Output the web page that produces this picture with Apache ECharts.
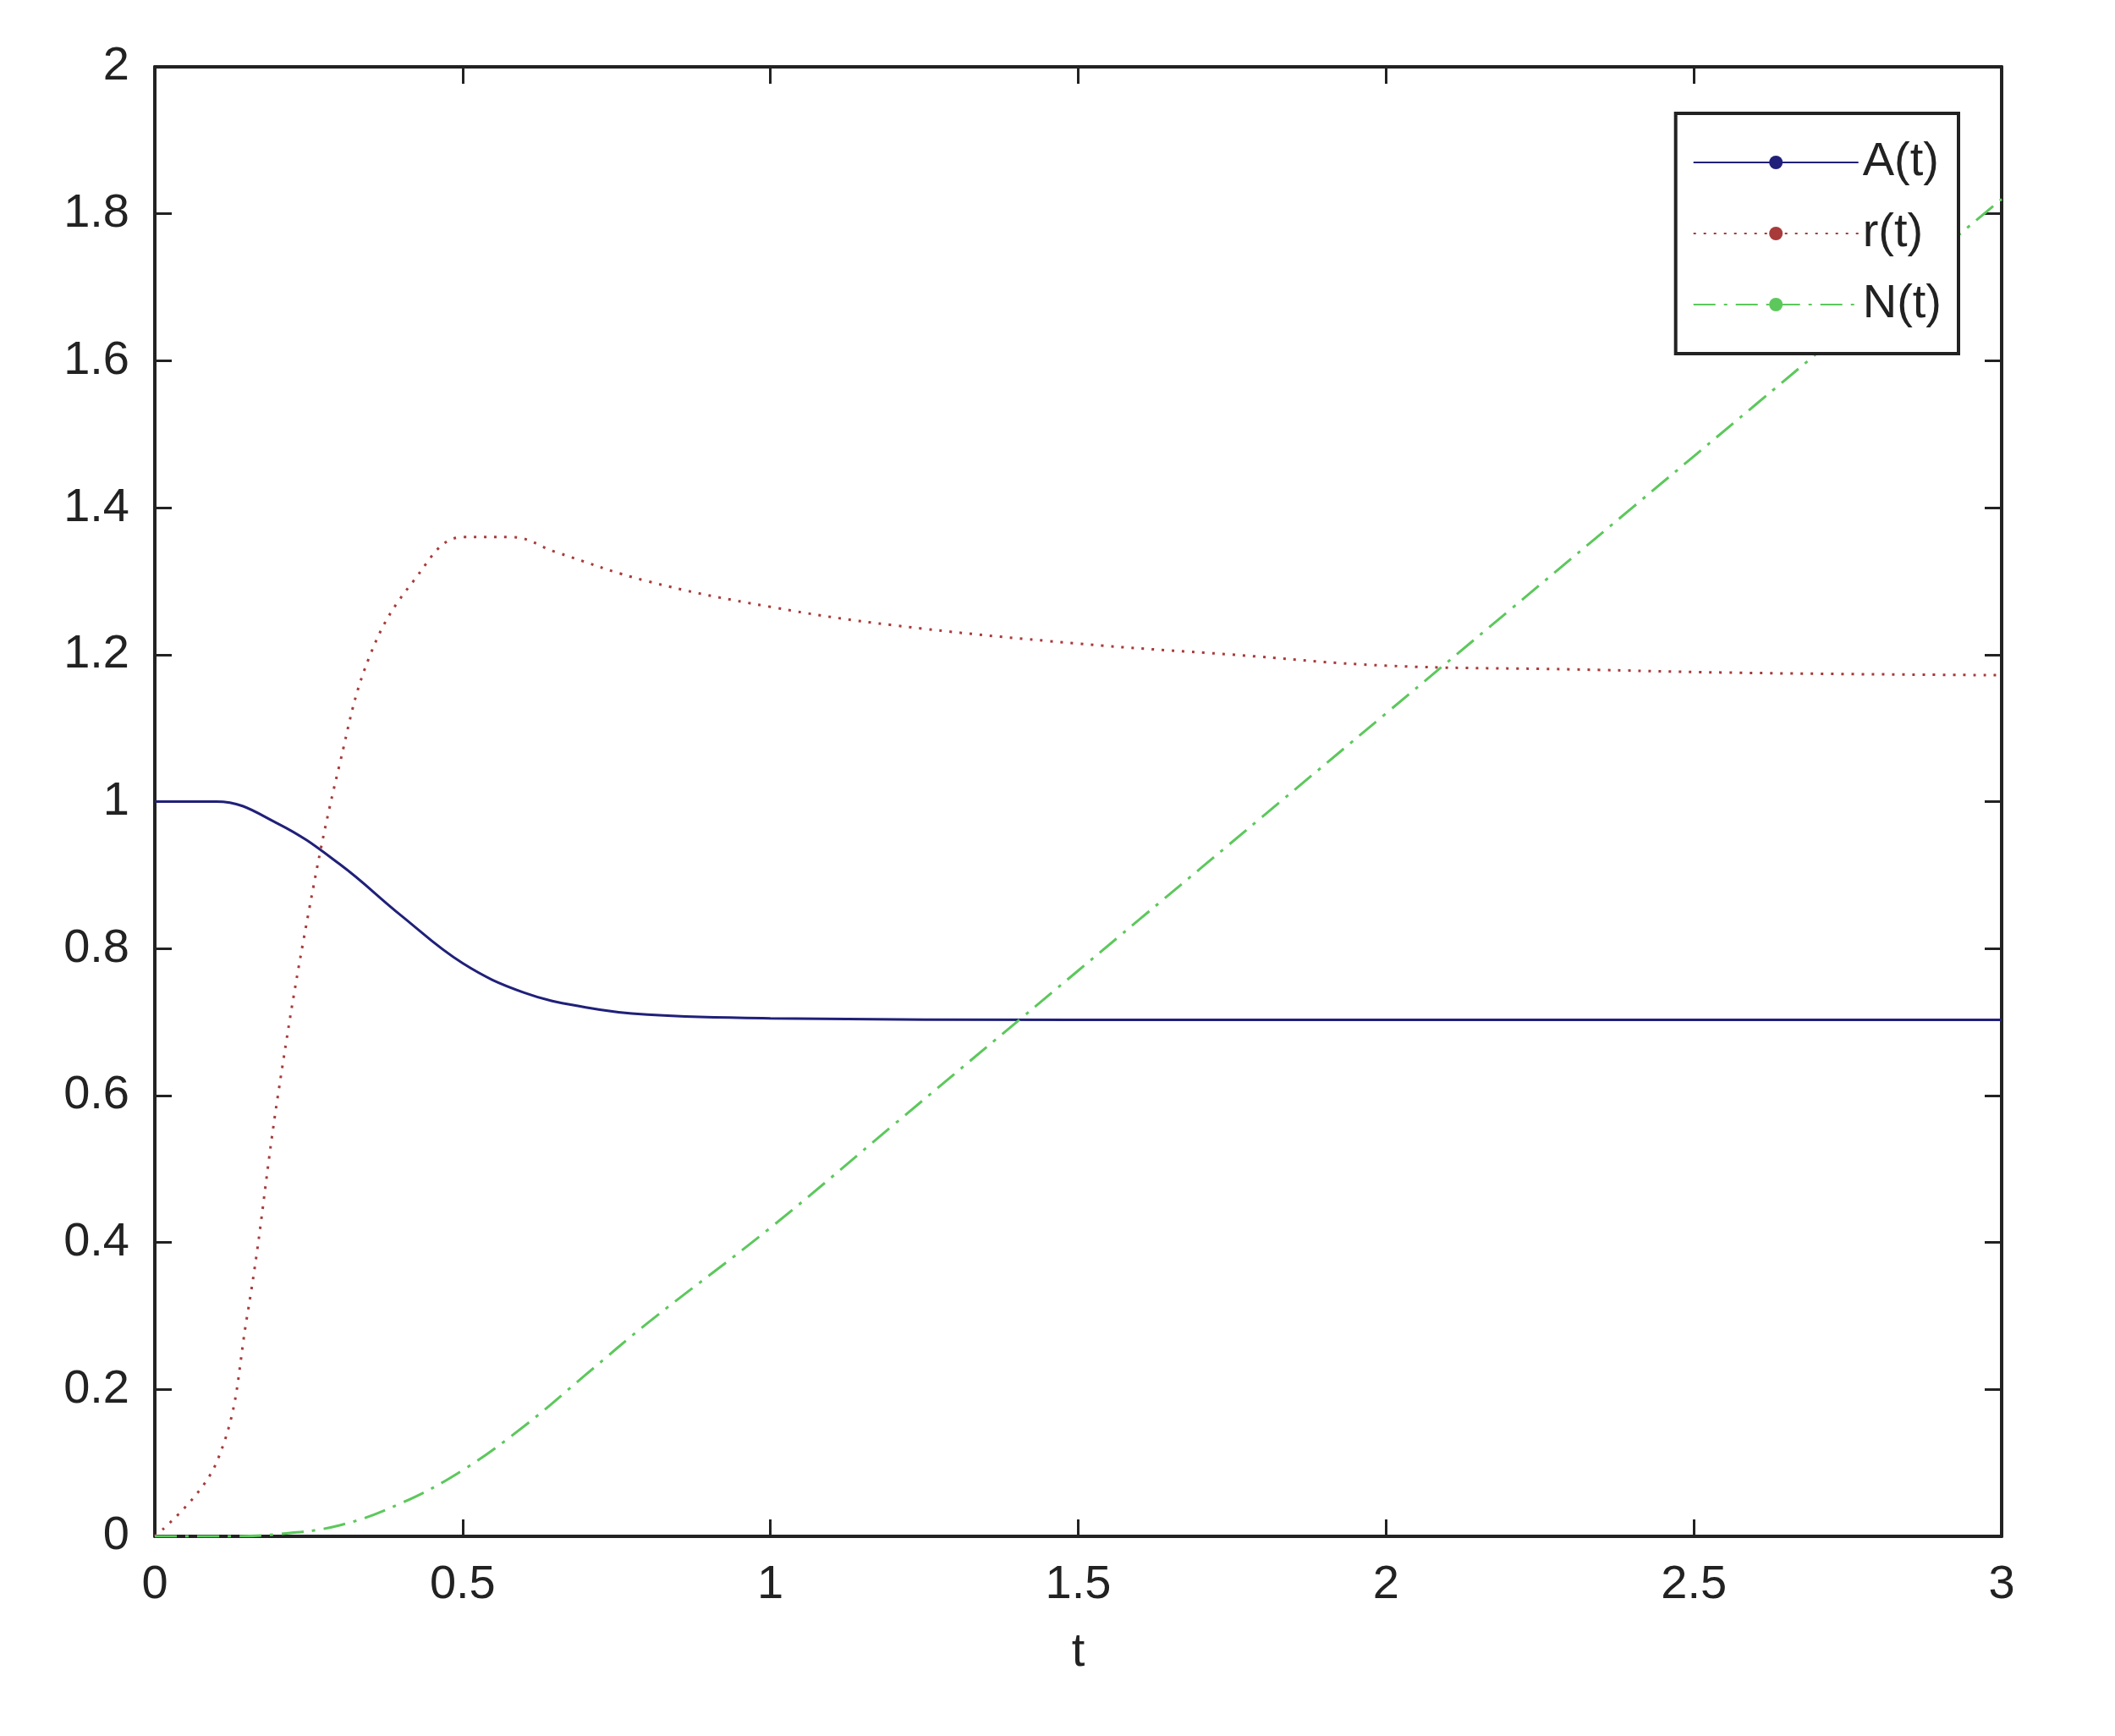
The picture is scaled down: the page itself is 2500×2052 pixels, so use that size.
<!DOCTYPE html>
<html>
<head>
<meta charset="utf-8">
<script src="https://cdn.jsdelivr.net/npm/echarts@6/dist/echarts.min.js"></script>
<style>html,body{margin:0;background:#fff}#chart{width:2500px;height:2052px}</style>
</head>
<body>
<div id="chart"></div>
<script>
const tA = [0, 0.1, 0.2, 0.3, 0.4, 0.5, 0.6, 0.7, 0.8, 1.0, 1.5, 2.0, 2.5, 3.0];
const aVals = [1, 1, 0.97, 0.915, 0.845, 0.78, 0.74, 0.72, 0.71, 0.705, 0.703, 0.703, 0.703, 0.703];
const tR = [0, 0.1, 0.15, 0.2, 0.25, 0.3, 0.35, 0.42, 0.5, 0.58, 0.65, 0.8, 1.0, 1.2, 1.5, 1.75, 2.0, 2.3, 2.6, 3.0];
const rVals = [0, 0.1, 0.3, 0.6, 0.85, 1.05, 1.2, 1.3, 1.36, 1.36, 1.34, 1.3, 1.265, 1.24, 1.215, 1.2, 1.185, 1.18, 1.175, 1.172];
const tN = [0, 0.1, 0.2, 0.3, 0.4, 0.5, 0.6, 0.7, 0.8, 1.0, 1.2, 1.4, 1.6, 1.8, 2.0, 2.2, 2.4, 2.6, 2.8, 3.0];
const nVals = [0, 0, 0.003, 0.015, 0.045, 0.09, 0.15, 0.22, 0.29, 0.42, 0.56, 0.70, 0.84, 0.98, 1.12, 1.26, 1.40, 1.54, 1.68, 1.82];

const zip = (xs, ys) => xs.map((x, i) => [x, ys[i]]);
const chart = echarts.init(document.getElementById("chart"));
const font = "Liberation Sans";
const tick = { show: true, inside: true, length: 20, lineStyle: { color: "#222", width: 3 } };
const line = { show: true, onZero: false, lineStyle: { color: "#222", width: 4 } };

chart.setOption({
  animation: false,
  grid: { left: 183, right: 134, top: 79, bottom: 236 },
  legend: {
    right: 185, top: 134, orient: "vertical", align: "left",
    itemWidth: 195, itemHeight: 20, itemGap: 28,
    padding: [30, 20, 30, 20],
    borderColor: "#222", borderWidth: 4, backgroundColor: "#fff",
    textStyle: { fontFamily: font, fontSize: 56, color: "#222" },
    data: ["A(t)", "r(t)", "N(t)"]
  },
  xAxis: [
    { type: "value", min: 0, max: 3, interval: 0.5, axisLine: line, axisTick: tick, splitLine: { show: false },
      axisLabel: { fontFamily: font, fontSize: 56, color: "#222", margin: 30 },
      name: "t", nameLocation: "middle", nameGap: 110, nameTextStyle: { fontFamily: font, fontSize: 56, color: "#222" } },
    { type: "value", position: "top", min: 0, max: 3, interval: 0.5, axisLine: line, axisTick: tick,
      axisLabel: { show: false }, splitLine: { show: false } }
  ],
  yAxis: [
    { type: "value", min: 0, max: 2, interval: 0.2, axisLine: line, axisTick: tick, splitLine: { show: false },
      axisLabel: { fontFamily: font, fontSize: 56, color: "#222", margin: 30, formatter: v => String(+v.toFixed(1)) } },
    { type: "value", position: "right", min: 0, max: 2, interval: 0.2, axisLine: line, axisTick: tick,
      axisLabel: { show: false }, splitLine: { show: false } }
  ],
  series: [
    { name: "A(t)", type: "line", smooth: 0.4, symbol: "none", data: zip(tA, aVals),
      lineStyle: { color: "#20207a", width: 3 }, itemStyle: { color: "#20207a" } },
    { name: "r(t)", type: "line", smooth: 0.4, symbol: "none", data: zip(tR, rVals),
      lineStyle: { color: "#a83a3a", width: 3, type: [3, 9] }, itemStyle: { color: "#a83a3a" } },
    { name: "N(t)", type: "line", smooth: 0.4, symbol: "none", data: zip(tN, nVals),
      lineStyle: { color: "#5cc85c", width: 3, type: [26, 10, 4, 10] }, itemStyle: { color: "#5cc85c" } }
  ]
});
</script>
</body>
</html>
